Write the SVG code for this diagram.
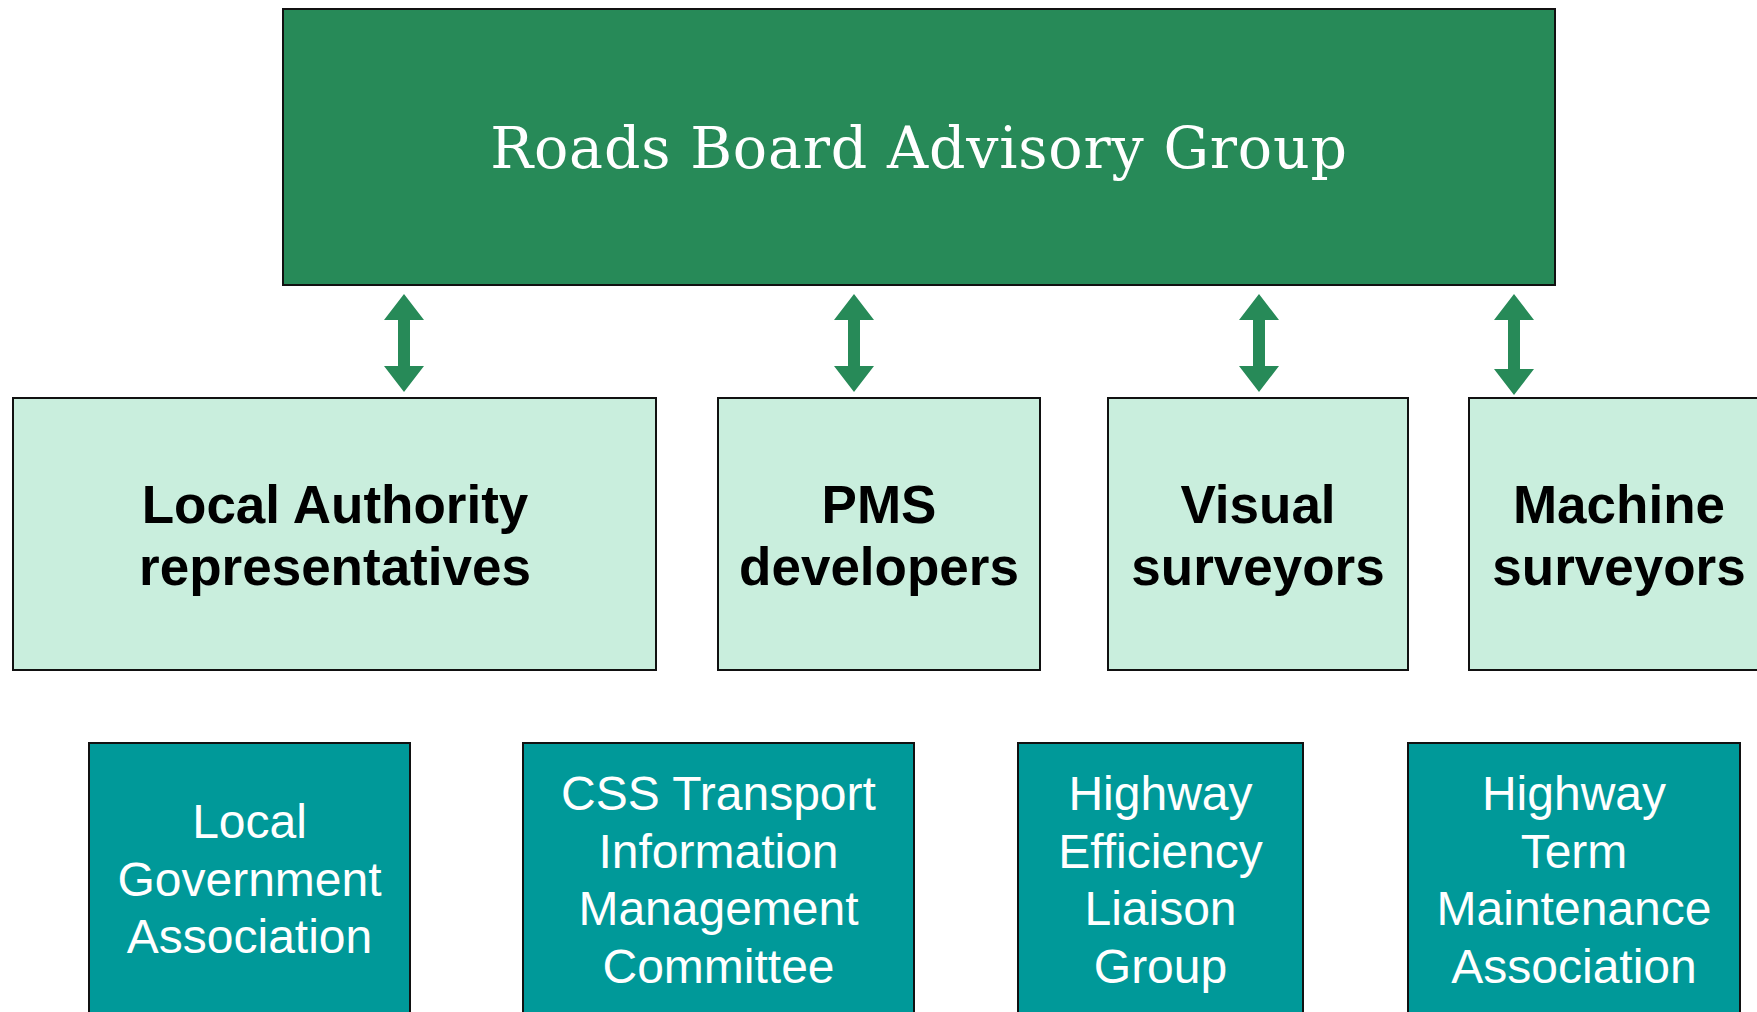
<svg xmlns="http://www.w3.org/2000/svg" xmlns:xlink="http://www.w3.org/1999/xlink" width="1757" height="1012" viewBox="0 0 1757 1012">
<style>
.top{fill:#278a58;stroke:#111;stroke-width:2}
.mid{fill:#c9eedd;stroke:#111;stroke-width:2}
.bot{fill:#009999;stroke:#111;stroke-width:2}
.title{font-family:"DejaVu Serif","Liberation Serif",serif;font-size:57px;letter-spacing:0.8px;fill:#fff;text-anchor:middle}
.mt{font-family:"Liberation Sans",Arial,sans-serif;font-weight:bold;font-size:53px;fill:#000;text-anchor:middle}
.bt{font-family:"Liberation Sans",Arial,sans-serif;font-size:48px;fill:#fff;text-anchor:middle}
.arr{fill:#278a58}
</style>
<defs>
<path id="dbl" d="M0,0 L20,26 L6,26 L6,72 L20,72 L0,98 L-20,72 L-6,72 L-6,26 L-20,26 Z"/>
</defs>
<rect width="1757" height="1012" fill="#fff"/>
<g id="connectors" class="arr">
<use xlink:href="#dbl" x="404" y="294"/>
<use xlink:href="#dbl" x="854" y="294"/>
<use xlink:href="#dbl" x="1259" y="294"/>
<path d="M1514,294 L1534,320 L1520,320 L1520,369 L1534,369 L1514,395 L1494,369 L1508,369 L1508,320 L1494,320 Z"/>
</g>
<g id="roads-board">
<rect class="top" x="283" y="9" width="1272" height="276"/>
<text class="title" x="919" y="168">Roads Board Advisory Group</text>
</g>
<g id="local-authority">
<rect class="mid" x="13" y="398" width="643" height="272"/>
<text class="mt" x="335" y="523">Local Authority</text>
<text class="mt" x="335" y="585">representatives</text>
</g>
<g id="pms">
<rect class="mid" x="718" y="398" width="322" height="272"/>
<text class="mt" x="879" y="523">PMS</text>
<text class="mt" x="879" y="585">developers</text>
</g>
<g id="visual">
<rect class="mid" x="1108" y="398" width="300" height="272"/>
<text class="mt" x="1258" y="523">Visual</text>
<text class="mt" x="1258" y="585">surveyors</text>
</g>
<g id="machine">
<rect class="mid" x="1469" y="398" width="300" height="272"/>
<text class="mt" x="1619" y="523">Machine</text>
<text class="mt" x="1619" y="585">surveyors</text>
</g>
<g id="lga">
<rect class="bot" x="89" y="743" width="321" height="290"/>
<text class="bt" x="249.5" y="838">Local</text>
<text class="bt" x="249.5" y="896">Government</text>
<text class="bt" x="249.5" y="953">Association</text>
</g>
<g id="css">
<rect class="bot" x="523" y="743" width="391" height="290"/>
<text class="bt" x="718.5" y="810">CSS Transport</text>
<text class="bt" x="718.5" y="868">Information</text>
<text class="bt" x="718.5" y="925">Management</text>
<text class="bt" x="718.5" y="983">Committee</text>
</g>
<g id="helg">
<rect class="bot" x="1018" y="743" width="285" height="290"/>
<text class="bt" x="1160.5" y="810">Highway</text>
<text class="bt" x="1160.5" y="868">Efficiency</text>
<text class="bt" x="1160.5" y="925">Liaison</text>
<text class="bt" x="1160.5" y="983">Group</text>
</g>
<g id="htma">
<rect class="bot" x="1408" y="743" width="332" height="290"/>
<text class="bt" x="1574" y="810">Highway</text>
<text class="bt" x="1574" y="868">Term</text>
<text class="bt" x="1574" y="925">Maintenance</text>
<text class="bt" x="1574" y="983">Association</text>
</g>
</svg>
